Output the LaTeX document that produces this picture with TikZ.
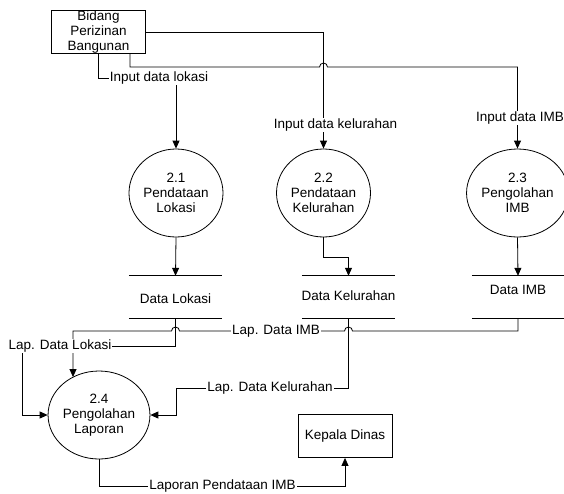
\documentclass[tikz,border=0pt]{standalone}
\usepackage{fontspec}
\setmainfont{Liberation Sans}
\usetikzlibrary{arrows.meta,shapes.geometric}
\begin{document}
\begin{tikzpicture}[x=1pt,y=-1pt,
  every node/.style={font=\fontsize{13.5}{15}\selectfont, inner sep=0pt, align=center},
  proc/.style={draw, ellipse, line width=0.8pt, minimum width=94pt, minimum height=88pt},
  ent/.style={draw, rectangle, line width=0.8pt, minimum width=94pt, minimum height=43pt},
  store/.style={rectangle, minimum width=93pt, minimum height=42pt},
  lbl/.style={fill=white, inner sep=1pt},
  line/.style={line width=0.8pt},
  flow/.style={line width=0.8pt, -{Triangle[length=8pt,width=7pt]}},
  ]
\useasboundingbox (0,0) rectangle (564,493);

% entities
\node[ent] (bidang) at (98.5,32) {Bidang\\Perizinan\\Bangunan};
\node[ent] (kepala) at (345,436) {Kepala Dinas};

% processes
\node[proc] (p21) at (176,193) {2.1\\Pendataan\\Lokasi};
\node[proc] (p22) at (323.5,193) {2.2\\Pendataan\\Kelurahan};
\node[proc] (p23) at (517.5,193) {2.3\\Pengolahan\\IMB};
\node[proc] (p24) at (99,415) {2.4\\Pengolahan\\Laporan};

% data stores
\node[store] (d1) at (175.5,297) {};
\node[store] (d2) at (348.5,297) {};
\node[store, minimum width=92pt] (d3) at (518,297) {};
\foreach \d in {d1,d2,d3}{
  \draw[line] (\d.north west) -- (\d.north east);
  \draw[line] (\d.south west) -- (\d.south east);
}
\node (t1) at (175.5,299) {Data Lokasi};
\node (t2) at (348.5,296) {Data Kelurahan};
\node (t3) at (518,290) {Data IMB};

% coordinates
\coordinate (b1) at (98,53);
\coordinate (b2) at (130,53);
\coordinate (b3) at (145,32);
\coordinate (jl) at (73,331);

% Input data kelurahan
\draw[flow] (b3) -- (323.5,32) -- (p22.north);
\node[lbl] (l22) at (335.5,125) {Input data kelurahan};

% Input data IMB (with jump)
\draw[flow] (b2) -- (130,67) -- (319.5,67) arc[start angle=180,end angle=360,radius=4] -- (p23.north |- 0,67) -- (p23.north);
\node[lbl] (l23) at (520,118) {Input data IMB};

% Input data lokasi
\draw[flow] (b1) -- (98,78) -- (p21.north |- 0,78) -- (p21.north);
\node[lbl] (l21) at (159,78) {Input data lokasi};

% process -> stores
\draw[flow] (p21.south) -- (d1.north);
\draw[flow] (p22.south) -- (p22.south |- 0,257) -| (d2.north);
\draw[flow] (p23.south) -- (d3.north);

% Lap. Data IMB
\draw[flow] (d3.south) -- (d3.south |- 0,331) -- (352.5,331) arc[start angle=0,end angle=-180,radius=4] -- (179.5,331) arc[start angle=0,end angle=-180,radius=4] -- (jl) -- (jl |- p24.125);
\node[lbl] (lim) at (276,331) {Lap. Data IMB};

% Lap. Data Lokasi
\draw[flow] (d1.south) -- (d1.south |- 0,346) -- (22,346) -- (22,415) -- (p24.west);
\node[lbl] (llok) at (60,346) {Lap. Data Lokasi};

% Lap. Data Kelurahan
\draw[flow] (d2.south) -- (d2.south |- 0,388) -- (176,388) -- (176,415) -- (p24.east);
\node[lbl] (lkel) at (270,388) {Lap. Data Kelurahan};

% Laporan Pendataan IMB
\draw[flow] (p24.south) -- (p24.south |- 0,486) -- (kepala.south |- 0,486) -- (kepala.south);
\node[lbl] (lap) at (222.5,486) {Laporan Pendataan IMB};
\end{tikzpicture}
\end{document}
